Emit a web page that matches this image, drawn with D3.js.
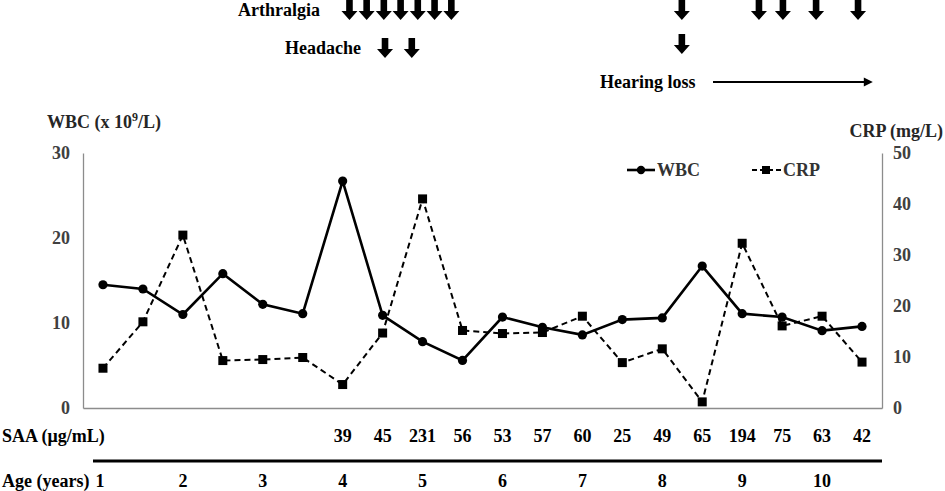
<!DOCTYPE html>
<html>
<head>
<meta charset="utf-8">
<script src="https://cdn.jsdelivr.net/npm/d3@7"></script>
<style>
  html, body { margin: 0; padding: 0; background: #fff; }
  svg { display: block; }
  text { font-family: "Liberation Serif", "Times New Roman", serif; font-weight: bold; }
</style>
</head>
<body>
<svg id="chart" width="945" height="491"></svg>
<script>
// ---- Data ----
const visits = d3.range(20);
const wbc = [14.5, 14.0, 11.0, 15.8, 12.2, 11.1, 26.7, 10.9, 7.8, 5.6, 10.7, 9.5, 8.6, 10.4, 10.6, 16.7, 11.1, 10.7, 9.1, 9.6];
const crp = [7.8, 16.9, 33.9, 9.3, 9.5, 9.9, 4.6, 14.7, 41.0, 15.2, 14.6, 14.8, 18.0, 8.9, 11.6, 1.2, 32.3, 16.1, 18.0, 9.0];
const saaVisits = [6, 7, 8, 9, 10, 11, 12, 13, 14, 15, 16, 17, 18, 19];
const saaValues = ["39", "45", "231", "56", "53", "57", "60", "25", "49", "65", "194", "75", "63", "42"];
const ageVisits = [0, 2, 4, 6, 8, 10, 12, 14, 16, 18];
const ageLabels = ["1", "2", "3", "4", "5", "6", "7", "8", "9", "10"];
const wbcTicks = [0, 10, 20, 30];
const crpTicks = [0, 10, 20, 30, 40, 50];
// symptom arrows (positions in visit-index units)
const arthralgiaArrows = [6.17, 6.6, 7.03, 7.45, 7.88, 8.3, 8.72, 14.49, 16.42, 17.02, 17.85, 18.9];
const headacheArrows = [7.06, 7.73, 14.49];
const hearingLossSpan = [15.27, 19.27];

// ---- Layout ----
const svg = d3.select("#chart");
const L = 83, R = 882, T = 153, B = 408;
const x = d3.scalePoint().domain(visits).range([L, R]).padding(0.5);
const xc = d3.scaleLinear().domain([0, 19]).range([x(0), x(19)]);
const yL = d3.scaleLinear().domain([0, 30]).range([B, T]);
const yR = d3.scaleLinear().domain([0, 50]).range([B, T]);

const axisCol = "#8c8c8c";
const tickCol = "#404040";

// Axes
const gL = svg.append("g").attr("transform", `translate(${L},0)`)
  .call(d3.axisLeft(yL).tickValues(wbcTicks).tickSize(0).tickPadding(13));
const gR = svg.append("g").attr("transform", `translate(${R},0)`)
  .call(d3.axisRight(yR).tickValues(crpTicks).tickSize(0).tickPadding(11));
const gB = svg.append("g").attr("transform", `translate(0,${B})`)
  .call(d3.axisBottom(x).tickValues([]).tickSize(0));
[gL, gR, gB].forEach(g => {
  g.select(".domain").attr("stroke", axisCol).attr("stroke-width", 1.3);
  g.selectAll("text").attr("fill", tickCol).style("font-size", "18px")
    .style("font-family", '"Liberation Serif", serif').style("font-weight", "bold");
});

// Axis titles
const wbcTitle = svg.append("text").attr("x", 47).attr("y", 128).attr("fill", "#262626").style("font-size", "18px");
wbcTitle.append("tspan").text("WBC (x 10");
wbcTitle.append("tspan").attr("dy", -7).style("font-size", "12px").text("9");
wbcTitle.append("tspan").attr("dy", 7).text("/L)");
svg.append("text").attr("x", 943).attr("y", 137).attr("text-anchor", "end")
  .attr("fill", "#262626").style("font-size", "18px").text("CRP (mg/L)");

// Lines
const lineWBC = d3.line().x((d, i) => x(i)).y(d => yL(d));
const lineCRP = d3.line().x((d, i) => x(i)).y(d => yR(d));
svg.append("path").datum(crp).attr("d", lineCRP).attr("fill", "none")
  .attr("stroke", "#000").attr("stroke-width", 2).attr("stroke-dasharray", "6,4");
svg.append("path").datum(wbc).attr("d", lineWBC).attr("fill", "none")
  .attr("stroke", "#000").attr("stroke-width", 2.6);
svg.selectAll("rect.crp").data(crp).enter().append("rect").attr("class", "crp")
  .attr("x", (d, i) => x(i) - 4.5).attr("y", d => yR(d) - 4.5)
  .attr("width", 9).attr("height", 9).attr("fill", "#000");
svg.selectAll("circle.wbc").data(wbc).enter().append("circle").attr("class", "wbc")
  .attr("cx", (d, i) => x(i)).attr("cy", d => yL(d)).attr("r", 4.6).attr("fill", "#000");

// Legend
const lg = svg.append("g");
lg.append("line").attr("x1", 627).attr("x2", 655).attr("y1", 170).attr("y2", 170)
  .attr("stroke", "#000").attr("stroke-width", 2.6);
lg.append("circle").attr("cx", 641).attr("cy", 170).attr("r", 4.2).attr("fill", "#000");
lg.append("text").attr("x", 657).attr("y", 176).attr("fill", "#333").style("font-size", "18px").text("WBC");
lg.append("line").attr("x1", 752).attr("x2", 781).attr("y1", 170).attr("y2", 170)
  .attr("stroke", "#000").attr("stroke-width", 2).attr("stroke-dasharray", "5,3");
lg.append("rect").attr("x", 762).attr("y", 166).attr("width", 8).attr("height", 8).attr("fill", "#000");
lg.append("text").attr("x", 783).attr("y", 176).attr("fill", "#333").style("font-size", "18px").text("CRP");

// SAA row and Age row
svg.append("text").attr("x", 2).attr("y", 442).style("font-size", "18px").attr("fill", "#000").text("SAA (μg/mL)");
svg.selectAll("text.saa").data(saaValues).enter().append("text").attr("class", "saa")
  .attr("x", (d, i) => x(saaVisits[i])).attr("y", 442).attr("text-anchor", "middle")
  .style("font-size", "18px").attr("fill", "#000").text(d => d);
svg.append("line").attr("x1", 93).attr("x2", R).attr("y1", 461).attr("y2", 461)
  .attr("stroke", "#000").attr("stroke-width", 3);
svg.append("text").attr("x", 2).attr("y", 487).style("font-size", "18px").attr("fill", "#000").text("Age (years)");
svg.selectAll("text.age").data(ageLabels).enter().append("text").attr("class", "age")
  .attr("x", (d, i) => x(ageVisits[i]) - (i === 0 ? 3 : 0)).attr("y", 487).attr("text-anchor", "middle")
  .style("font-size", "18px").attr("fill", "#000").text(d => d);

// Symptom annotations
function blockArrow(cx, top) {
  const sw = 3.3, hw = 8, h = 20, hh = 9;
  return `M${cx - sw},${top} L${cx + sw},${top} L${cx + sw},${top + h - hh} L${cx + hw},${top + h - hh} ` +
         `L${cx},${top + h} L${cx - hw},${top + h - hh} L${cx - sw},${top + h - hh} Z`;
}
svg.append("text").attr("x", 238).attr("y", 16).style("font-size", "18px").attr("fill", "#000").text("Arthralgia");
svg.selectAll("path.arth").data(arthralgiaArrows).enter().append("path").attr("class", "arth")
  .attr("d", d => blockArrow(xc(d), 0)).attr("fill", "#000");
svg.append("text").attr("x", 285).attr("y", 54).style("font-size", "18px").attr("fill", "#000").text("Headache");
svg.selectAll("path.head").data(headacheArrows).enter().append("path").attr("class", "head")
  .attr("d", (d, i) => blockArrow(xc(d), i < 2 ? 38 : 34)).attr("fill", "#000");
svg.append("text").attr("x", 600).attr("y", 88).style("font-size", "18px").attr("fill", "#000").text("Hearing loss");
svg.append("line").attr("x1", xc(hearingLossSpan[0])).attr("x2", xc(hearingLossSpan[1]) - 6)
  .attr("y1", 82).attr("y2", 82).attr("stroke", "#000").attr("stroke-width", 2.2);
svg.append("path").attr("d", () => {
  const ex = xc(hearingLossSpan[1]);
  return `M${ex},82 L${ex - 9},77.5 L${ex - 9},86.5 Z`;
}).attr("fill", "#000");
</script>
</body>
</html>
